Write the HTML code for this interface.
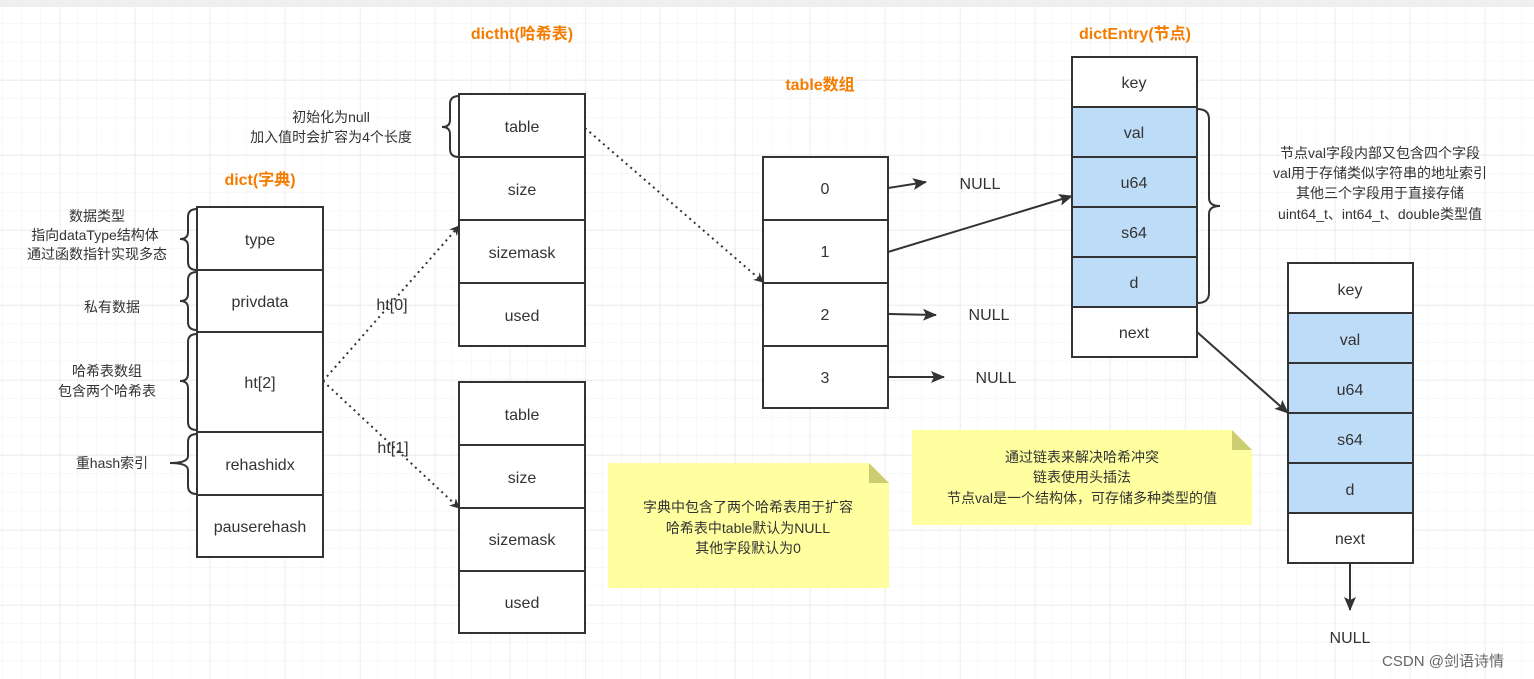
<!DOCTYPE html>
<html><head><meta charset="utf-8"><style>
html,body{margin:0;padding:0;background:#fff}
svg{display:block}
text{font-family:"Liberation Sans","Noto Sans CJK SC",sans-serif;fill:#333}
</style></head><body>
<svg width="1534" height="679" viewBox="0 0 1534 679" xmlns="http://www.w3.org/2000/svg">
<defs>
<pattern id="minor" width="18.75" height="18.75" patternUnits="userSpaceOnUse" x="3" y="5">
<path d="M18.75 0V18.75M0 18.75H18.75" stroke="#f0f0f0" stroke-width="1" fill="none"/></pattern>
<pattern id="major" width="75" height="75" patternUnits="userSpaceOnUse" x="60" y="5">
<path d="M0 0V75M0 0H75" stroke="#e3e3e3" stroke-width="1" fill="none"/></pattern>
<marker id="ah" markerWidth="10" markerHeight="10" refX="9" refY="5" orient="auto" markerUnits="userSpaceOnUse">
<path d="M0,0 L10,5 L0,10 L3,5 z" fill="#333"/></marker>
<marker id="ah2" markerWidth="14" markerHeight="12" refX="13" refY="6" orient="auto" markerUnits="userSpaceOnUse">
<path d="M0,0 L14,6 L0,12 L3,6 z" fill="#333"/></marker>
</defs>
<rect width="1534" height="679" fill="#fff"/>
<rect width="1534" height="679" fill="url(#minor)"/>
<rect width="1534" height="679" fill="url(#major)"/>
<rect width="1534" height="7" fill="#efefef"/>

<g font-size="16" font-weight="bold" text-anchor="middle">
<text x="260" y="185" style="fill:#f57c00">dict(字典)</text>
<text x="522" y="39" style="fill:#f57c00">dictht(哈希表)</text>
<text x="820" y="90" style="fill:#f57c00">table数组</text>
<text x="1135" y="39" style="fill:#f57c00">dictEntry(节点)</text>
</g>

<g stroke="#333" stroke-width="2" fill="#fff">
<!-- dict -->
<rect x="197" y="207" width="126" height="63"/><rect x="197" y="270" width="126" height="62"/>
<rect x="197" y="332" width="126" height="100"/><rect x="197" y="432" width="126" height="63"/>
<rect x="197" y="495" width="126" height="62"/>
<!-- dictht top -->
<rect x="459" y="94" width="126" height="63"/><rect x="459" y="157" width="126" height="63"/>
<rect x="459" y="220" width="126" height="63"/><rect x="459" y="283" width="126" height="63"/>
<!-- dictht bottom -->
<rect x="459" y="382" width="126" height="63"/><rect x="459" y="445" width="126" height="63"/>
<rect x="459" y="508" width="126" height="63"/><rect x="459" y="571" width="126" height="62"/>
<!-- table -->
<rect x="763" y="157" width="125" height="63"/><rect x="763" y="220" width="125" height="63"/>
<rect x="763" y="283" width="125" height="63"/><rect x="763" y="346" width="125" height="62"/>
<!-- entry1 -->
<rect x="1072" y="57" width="125" height="50"/>
<rect x="1072" y="107" width="125" height="50" fill="#bddcf8"/><rect x="1072" y="157" width="125" height="50" fill="#bddcf8"/>
<rect x="1072" y="207" width="125" height="50" fill="#bddcf8"/><rect x="1072" y="257" width="125" height="50" fill="#bddcf8"/>
<rect x="1072" y="307" width="125" height="50"/>
<!-- entry2 -->
<rect x="1288" y="263" width="125" height="50"/>
<rect x="1288" y="313" width="125" height="50" fill="#bddcf8"/><rect x="1288" y="363" width="125" height="50" fill="#bddcf8"/>
<rect x="1288" y="413" width="125" height="50" fill="#bddcf8"/><rect x="1288" y="463" width="125" height="50" fill="#bddcf8"/>
<rect x="1288" y="513" width="125" height="50"/>
</g>

<g font-size="16" text-anchor="middle">
<text x="260" y="245">type</text><text x="260" y="307">privdata</text><text x="260" y="388">ht[2]</text>
<text x="260" y="470">rehashidx</text><text x="260" y="532">pauserehash</text>
<text x="522" y="132">table</text><text x="522" y="195">size</text><text x="522" y="258">sizemask</text><text x="522" y="321">used</text>
<text x="522" y="420">table</text><text x="522" y="483">size</text><text x="522" y="545">sizemask</text><text x="522" y="608">used</text>
<text x="825" y="194">0</text><text x="825" y="257">1</text><text x="825" y="320">2</text><text x="825" y="383">3</text>
<text x="1134" y="88">key</text><text x="1134" y="138">val</text><text x="1134" y="188">u64</text>
<text x="1134" y="238">s64</text><text x="1134" y="288">d</text><text x="1134" y="338">next</text>
<text x="1350" y="295">key</text><text x="1350" y="345">val</text><text x="1350" y="395">u64</text>
<text x="1350" y="445">s64</text><text x="1350" y="495">d</text><text x="1350" y="544">next</text>
<text x="980" y="189">NULL</text><text x="989" y="320">NULL</text><text x="996" y="383">NULL</text>
<text x="1350" y="643">NULL</text>
<text x="392" y="310">ht[0]</text><text x="393" y="453">ht[1]</text>
</g>

<!-- dotted arrows -->
<g stroke="#333" stroke-width="2" stroke-dasharray="2,4" fill="none">
<path d="M323 381 L459 226" marker-end="url(#ah)"/>
<path d="M323 381 L459 508" marker-end="url(#ah)"/>
<path d="M585 128 L763 282" marker-end="url(#ah)"/>
</g>
<g stroke="#333" stroke-width="2" fill="none">
<path d="M888 188 L926 182" marker-end="url(#ah2)"/>
<path d="M888 252 L1072 196" marker-end="url(#ah2)"/>
<path d="M888 314 L936 315" marker-end="url(#ah2)"/>
<path d="M888 377 L944 377" marker-end="url(#ah2)"/>
<path d="M1197 332 L1288 413" marker-end="url(#ah2)"/>
<path d="M1350 563 L1350 610" marker-end="url(#ah2)"/>
<!-- braces -->
<path d="M197 209 Q188 209 188 217 V232 Q188 239 180 239 Q188 239 188 246 V262 Q188 270 197 270"/>
<path d="M197 272 Q188 272 188 280 V294 Q188 301 180 301 Q188 301 188 308 V322 Q188 330 197 330"/>
<path d="M197 334 Q188 334 188 342 V374 Q188 381 180 381 Q188 381 188 388 V422 Q188 430 197 430"/>
<path d="M197 434 Q188 434 188 442 V456 Q188 463 170 463 Q188 463 188 470 V486 Q188 494 197 494"/>
<path d="M459 96 Q450 96 450 104 V120 Q450 127 442 127 Q450 127 450 134 V149 Q450 157 459 157"/>
<path d="M1197 109 Q1209 109 1209 119 V198 Q1209 206 1220 206 Q1209 206 1209 214 V293 Q1209 303 1197 303"/>
</g>

<g font-size="14" text-anchor="middle">
<text x="97" y="221">数据类型</text><text x="95" y="240">指向dataType结构体</text><text x="97" y="259">通过函数指针实现多态</text>
<text x="112" y="312">私有数据</text>
<text x="107" y="376">哈希表数组</text><text x="107" y="396">包含两个哈希表</text>
<text x="112" y="468">重hash索引</text>
<text x="331" y="122">初始化为null</text><text x="331" y="142">加入值时会扩容为4个长度</text>
<text x="1380" y="158">节点val字段内部又包含四个字段</text>
<text x="1380" y="178">val用于存储类似字符串的地址索引</text>
<text x="1380" y="198">其他三个字段用于直接存储</text>
<text x="1380" y="219">uint64_t、int64_t、double类型值</text>
</g>

<!-- notes -->
<path d="M608 463 H869 L889 483 V588 H608 Z" fill="#ffffa0"/>
<path d="M869 463 V483 H889 Z" fill="#cccc70"/>
<path d="M912 430 H1232 L1252 450 V525 H912 Z" fill="#ffffa0"/>
<path d="M1232 430 V450 H1252 Z" fill="#cccc70"/>
<g font-size="14" text-anchor="middle">
<text x="748" y="512">字典中包含了两个哈希表用于扩容</text>
<text x="748" y="533">哈希表中table默认为NULL</text>
<text x="748" y="553">其他字段默认为0</text>
<text x="1082" y="462">通过链表来解决哈希冲突</text>
<text x="1082" y="482">链表使用头插法</text>
<text x="1082" y="503">节点val是一个结构体，可存储多种类型的值</text>
</g>
<text x="1443" y="666" font-size="15" text-anchor="middle" style="fill:#666">CSDN @剑语诗情</text>
</svg>
</body></html>
